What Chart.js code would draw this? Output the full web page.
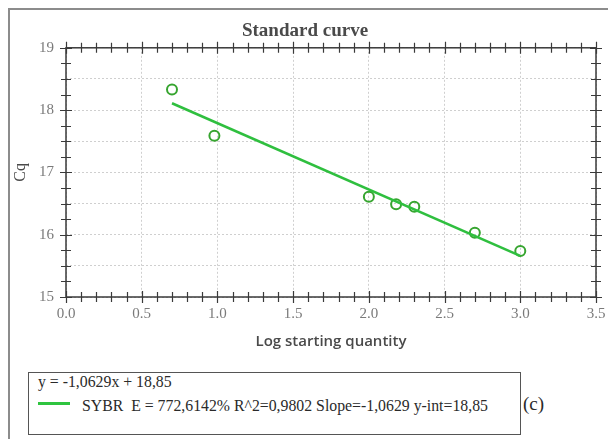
<!DOCTYPE html>
<html>
<head>
<meta charset="utf-8">
<script src="https://cdn.jsdelivr.net/npm/chart.js@4/dist/chart.umd.min.js"></script>
<style>
  html, body { margin: 0; padding: 0; background: #fff; }
  body { width: 608px; height: 439px; position: relative; overflow: hidden; }
  #frame { position: absolute; left: 8px; top: 8px; width: 640px; height: 480px; border: 2px solid #8c8c8c; box-sizing: border-box; }
  #wrap { position: absolute; left: 0; top: 0; width: 608px; height: 360px; }
  #legend { position: absolute; left: 28px; top: 372px; width: 493px; height: 63px; border: 1px solid #555; box-sizing: border-box;
            font-family: "Liberation Serif", "DejaVu Serif", serif; font-size: 15.8px; line-height: 18px; color: #2a2a2a; background: #fff; }
  #legend .l1 { position: absolute; left: 9px; top: 0px; white-space: nowrap; }
  #legend .sw { position: absolute; left: 9px; top: 29px; width: 32px; height: 3px; background: #2fc43f; }
  #legend .l2 { position: absolute; left: 53px; top: 24px; white-space: nowrap; }
  #tag { position: absolute; left: 523px; top: 393px; font-family: "Liberation Serif", serif; font-size: 19px; line-height: 22px; color: #2a2a2a; }
</style>
</head>
<body>
<div id="frame"></div>
<div id="wrap"><canvas id="c"></canvas></div>
<div id="legend">
  <div class="l1">y = -1,0629x + 18,85</div>
  <div class="sw"></div>
  <div class="l2">SYBR&nbsp; E = 772,6142% R^2=0,9802 Slope=-1,0629 y-int=18,85</div>
</div>
<div id="tag">(c)</div>
<script>
// ---- data ----
const logQuantity = [0.70, 0.98, 2.00, 2.18, 2.30, 2.70, 3.00];
const cqValues    = [18.33, 17.59, 16.61, 16.49, 16.45, 16.03, 15.74];
const fitX        = [0.70, 3.00];
const fitY        = [18.11, 15.66];
const xTickValues = [0, 0.5, 1, 1.5, 2, 2.5, 3, 3.5];
const xTickLabels = ['0.0', '0.5', '1.0', '1.5', '2.0', '2.5', '3.0', '3.5'];
const yTickValues = [15, 16, 17, 18, 19];
const yTickLabels = ['15', '16', '17', '18', '19'];

const xMinorStep = 0.1;
const yMinorStep = 0.25;

const pointsData = logQuantity.map((x, i) => ({ x: x, y: cqValues[i] }));
const fitData = fitX.map((x, i) => ({ x: x, y: fitY[i] }));

const frameTicks = {
  id: 'frameTicks',
  afterDatasetsDraw(chart) {
    const { ctx, chartArea: a, scales: { x, y } } = chart;
    ctx.save();
    ctx.strokeStyle = '#3a3a3a';
    ctx.lineWidth = 1.5;
    ctx.strokeRect(a.left, a.top, a.right - a.left, a.bottom - a.top);
    ctx.lineWidth = 1.2;
    ctx.beginPath();
    const nx = Math.round((x.max - x.min) / xMinorStep);
    for (let i = 0; i <= nx; i++) {
      const L = (i % 5 === 0) ? 6 : 5;
      const px = Math.round(x.getPixelForValue(x.min + i * xMinorStep)) + 0.5;
      ctx.moveTo(px, a.bottom - L); ctx.lineTo(px, a.bottom + L);
      ctx.moveTo(px, a.top - L); ctx.lineTo(px, a.top + L);
    }
    const ny = Math.round((y.max - y.min) / yMinorStep);
    for (let i = 0; i <= ny; i++) {
      const L = (i % 4 === 0) ? 6 : 5;
      const py = Math.round(y.getPixelForValue(y.min + i * yMinorStep)) + 0.5;
      ctx.moveTo(a.left - L, py); ctx.lineTo(a.left + L, py);
      ctx.moveTo(a.right - L, py); ctx.lineTo(a.right + L, py);
    }
    ctx.stroke();
    ctx.restore();
  }
};

new Chart(document.getElementById('c'), {
  type: 'scatter',
  data: {
    datasets: [
      {
        type: 'line',
        data: fitData,
        borderColor: '#2fbf3f',
        borderWidth: 2.5,
        pointRadius: 0,
        showLine: true,
        fill: false
      },
      {
        data: pointsData,
        pointStyle: 'circle',
        pointRadius: 5,
        pointBorderWidth: 2,
        pointBorderColor: '#37a530',
        pointBackgroundColor: 'rgba(255,255,255,0)',
        showLine: false
      }
    ]
  },
  options: {
    responsive: true,
    maintainAspectRatio: false,
    animation: false,
    layout: { padding: { left: 14, right: 12, top: 12, bottom: 0 } },
    plugins: {
      legend: { display: false },
      tooltip: { enabled: false },
      title: {
        display: true,
        text: 'Standard curve',
        color: '#4a4a4a',
        font: { family: 'Liberation Serif', size: 19, weight: 'bold' },
        padding: { top: 8, bottom: 5 }
      }
    },
    scales: {
      x: {
        type: 'linear',
        min: 0, max: 3.5,
        afterBuildTicks(scale) { scale.ticks = xTickValues.map(v => ({ value: v })); },
        afterFit(scale) { scale.height = 63; scale.paddingLeft = 0; scale.paddingRight = 0; },
        ticks: {
          callback: (v, i) => xTickLabels[i],
          color: '#7a7a7a',
          font: { family: 'Liberation Serif', size: 15 },
          padding: 8,
          maxRotation: 0
        },
        grid: { color: '#cfcfcf', lineWidth: 1, drawTicks: false },
        border: { display: false, dash: [2, 2] },
        title: {
          display: true,
          text: 'Log starting quantity',
          color: '#4a4a4a',
          font: { family: 'Open Sans', size: 15, weight: '600' },
          padding: { top: 0, bottom: 9 }
        }
      },
      y: {
        type: 'linear',
        min: 15, max: 19,
        afterBuildTicks(scale) {
          const t = [];
          for (let v = scale.min; v <= scale.max + 1e-9; v += 0.5) t.push({ value: v });
          scale.ticks = t;
        },
        afterFit(scale) { scale.width = 52; scale.paddingTop = 0; scale.paddingBottom = 0; },
        ticks: {
          callback: (v) => { const k = yTickValues.indexOf(v); return k >= 0 ? yTickLabels[k] : ''; },
          color: '#7a7a7a',
          font: { family: 'Liberation Serif', size: 15 },
          padding: 12
        },
        grid: { color: '#cfcfcf', lineWidth: 1, drawTicks: false },
        border: { display: false, dash: [2, 2] },
        title: {
          display: true,
          text: 'Cq',
          color: '#4a4a4a',
          font: { family: 'Liberation Serif', size: 16 },
          padding: { top: -3, bottom: 0 }
        }
      }
    }
  },
  plugins: [frameTicks]
});
</script>
</body>
</html>
